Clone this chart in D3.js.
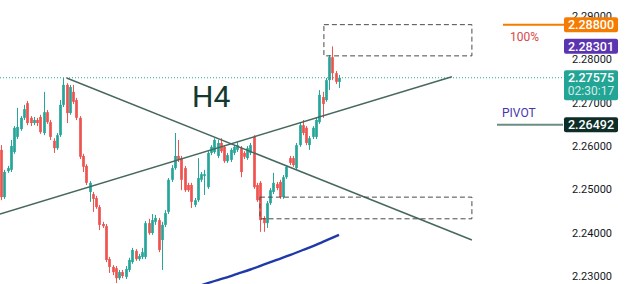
<!DOCTYPE html>
<html>
<head>
<meta charset="utf-8">
<script src="https://cdn.jsdelivr.net/npm/d3@7"></script>
<style>
  html, body { margin: 0; padding: 0; background: #fff; }
  svg { display: block; }
</style>
</head>
<body>
<svg id="chart" width="625" height="284"></svg>
<script>
// price axis ticks
const priceTicks = [2.23, 2.24, 2.25, 2.26, 2.27, 2.28, 2.29];

// 4h candles [open, high, low, close]
const ohlc = [
  [2.2591, 2.2602, 2.2475, 2.2482], [2.2482, 2.2545, 2.2478, 2.2540], [2.2542, 2.2554, 2.2538, 2.2549],
  [2.2545, 2.2614, 2.2540, 2.2600], [2.2586, 2.2646, 2.2582, 2.2642], [2.2621, 2.2688, 2.2616, 2.2644],
  [2.2639, 2.2669, 2.2635, 2.2665], [2.2665, 2.2695, 2.2660, 2.2685], [2.2699, 2.2704, 2.2648, 2.2653],
  [2.2665, 2.2669, 2.2646, 2.2653], [2.2653, 2.2667, 2.2648, 2.2660], [2.2660, 2.2665, 2.2646, 2.2653],
  [2.2667, 2.2672, 2.2628, 2.2632], [2.2630, 2.2725, 2.2625, 2.2678], [2.2678, 2.2683, 2.2651, 2.2655],
  [2.2655, 2.2660, 2.2614, 2.2621], [2.2612, 2.2618, 2.2584, 2.2595], [2.2595, 2.2630, 2.2591, 2.2625],
  [2.2625, 2.2706, 2.2621, 2.2695], [2.2695, 2.2757, 2.2690, 2.2741], [2.2741, 2.2745, 2.2653, 2.2676],
  [2.2676, 2.2741, 2.2672, 2.2736], [2.2725, 2.2741, 2.2697, 2.2702], [2.2706, 2.2711, 2.2660, 2.2665],
  [2.2665, 2.2669, 2.2570, 2.2575], [2.2577, 2.2582, 2.2540, 2.2552], [2.2554, 2.2558, 2.2510, 2.2515],
  [2.2494, 2.2519, 2.2471, 2.2515], [2.2489, 2.2494, 2.2448, 2.2478], [2.2480, 2.2485, 2.2455, 2.2459],
  [2.2459, 2.2464, 2.2406, 2.2418], [2.2420, 2.2425, 2.2411, 2.2415], [2.2415, 2.2420, 2.2332, 2.2337],
  [2.2339, 2.2344, 2.2307, 2.2321], [2.2321, 2.2325, 2.2302, 2.2309], [2.2318, 2.2323, 2.2284, 2.2295],
  [2.2295, 2.2314, 2.2291, 2.2309], [2.2309, 2.2314, 2.2295, 2.2300], [2.2298, 2.2323, 2.2293, 2.2316],
  [2.2314, 2.2342, 2.2309, 2.2337], [2.2332, 2.2365, 2.2328, 2.2360], [2.2358, 2.2362, 2.2335, 2.2339],
  [2.2339, 2.2351, 2.2335, 2.2346], [2.2344, 2.2365, 2.2339, 2.2355], [2.2344, 2.2427, 2.2339, 2.2422],
  [2.2422, 2.2432, 2.2395, 2.2399], [2.2399, 2.2443, 2.2395, 2.2429], [2.2425, 2.2441, 2.2418, 2.2434],
  [2.2429, 2.2434, 2.2355, 2.2360], [2.2383, 2.2425, 2.2314, 2.2418], [2.2418, 2.2452, 2.2413, 2.2445],
  [2.2448, 2.2526, 2.2443, 2.2522], [2.2522, 2.2556, 2.2517, 2.2549], [2.2549, 2.2630, 2.2545, 2.2577],
  [2.2577, 2.2614, 2.2563, 2.2568], [2.2572, 2.2577, 2.2498, 2.2522], [2.2549, 2.2554, 2.2494, 2.2498],
  [2.2510, 2.2515, 2.2494, 2.2498], [2.2510, 2.2515, 2.2457, 2.2471], [2.2464, 2.2480, 2.2459, 2.2475],
  [2.2475, 2.2572, 2.2471, 2.2526], [2.2522, 2.2540, 2.2517, 2.2535], [2.2531, 2.2545, 2.2487, 2.2535],
  [2.2505, 2.2588, 2.2501, 2.2584], [2.2584, 2.2602, 2.2579, 2.2598], [2.2586, 2.2618, 2.2582, 2.2614],
  [2.2577, 2.2614, 2.2572, 2.2607], [2.2607, 2.2618, 2.2584, 2.2588], [2.2598, 2.2602, 2.2561, 2.2565],
  [2.2565, 2.2584, 2.2561, 2.2579], [2.2568, 2.2595, 2.2563, 2.2591], [2.2584, 2.2602, 2.2579, 2.2598],
  [2.2591, 2.2609, 2.2586, 2.2602], [2.2595, 2.2600, 2.2528, 2.2540], [2.2584, 2.2588, 2.2570, 2.2575],
  [2.2572, 2.2600, 2.2568, 2.2595], [2.2584, 2.2607, 2.2579, 2.2602], [2.2621, 2.2625, 2.2501, 2.2505],
  [2.2510, 2.2515, 2.2471, 2.2475], [2.2515, 2.2519, 2.2402, 2.2429], [2.2434, 2.2438, 2.2402, 2.2422],
  [2.2422, 2.2473, 2.2411, 2.2468], [2.2468, 2.2503, 2.2464, 2.2498], [2.2494, 2.2538, 2.2489, 2.2515],
  [2.2512, 2.2517, 2.2498, 2.2503], [2.2517, 2.2522, 2.2478, 2.2482], [2.2482, 2.2533, 2.2478, 2.2528],
  [2.2528, 2.2556, 2.2524, 2.2552], [2.2572, 2.2577, 2.2556, 2.2561], [2.2572, 2.2577, 2.2552, 2.2556],
  [2.2549, 2.2607, 2.2545, 2.2602], [2.2602, 2.2655, 2.2598, 2.2648], [2.2648, 2.2660, 2.2625, 2.2630],
  [2.2642, 2.2646, 2.2602, 2.2607], [2.2602, 2.2623, 2.2591, 2.2618], [2.2621, 2.2646, 2.2616, 2.2642],
  [2.2621, 2.2665, 2.2616, 2.2660], [2.2655, 2.2729, 2.2651, 2.2718], [2.2713, 2.2725, 2.2665, 2.2697],
  [2.2706, 2.2757, 2.2702, 2.2752], [2.2752, 2.2810, 2.2729, 2.2805], [2.2805, 2.2830, 2.2752, 2.2768],
  [2.2768, 2.2773, 2.2743, 2.2748], [2.2748, 2.2764, 2.2734, 2.27575]
];

// moving average (blue), [bar index, price]
const maPoints = [
  [60, 2.2276], [64, 2.2286], [68, 2.2295], [72, 2.2305], [76, 2.2315], [80, 2.2326],
  [84, 2.2337], [88, 2.2348], [92, 2.2360], [96, 2.2372], [100, 2.2385], [103, 2.2395]
];

// drawn trend lines, [bar index, price] pairs
const trendLines = [
  [[20, 2.2757], [143.5, 2.2383]],
  [[-0.3, 2.2443], [137.4, 2.2760]]
];

// dashed zones: [fromBar, toBar, lowPrice, highPrice]
const zones = [
  [98.4, 143.5, 2.2808, 2.2880],
  [78.9, 143.5, 2.2432, 2.2482]
];

const lastPrice = 2.27575;
const countdown = "02:30:17";
const targetPrice = 2.28800;
const highPrice = 2.28301;
const pivotPrice = 2.26492;

const width = 625, height = 284;
const teal = "#26a69a", red = "#ef5350";
const font = "Roboto, 'Noto Sans', sans-serif";

const svg = d3.select("#chart");
svg.append("rect").attr("width", width).attr("height", height).attr("fill", "#fff");

const x = d3.scaleLinear().domain([0, ohlc.length - 1]).range([1, 339]);
const y = d3.scaleLinear().domain([2.23, 2.29]).range([276, 16]);

// price axis labels
const axis = svg.append("g")
  .attr("transform", "translate(566,0)")
  .call(d3.axisRight(y).tickValues(priceTicks).tickFormat(d3.format(".5f")).tickSize(0).tickPadding(6));
axis.select(".domain").remove();
axis.selectAll("text")
  .attr("font-family", font)
  .attr("font-size", "11px")
  .attr("fill", "#131722");

// last price dotted line
svg.append("line")
  .attr("x1", 0).attr("x2", 563)
  .attr("y1", y(lastPrice)).attr("y2", y(lastPrice))
  .attr("stroke", teal).attr("stroke-width", 1)
  .attr("stroke-dasharray", "1,2");

// H4 label
svg.append("text")
  .attr("x", 192).attr("y", 107)
  .attr("font-family", font).attr("font-size", "30px")
  .attr("fill", "#133a31")
  .text("H4");

// candles
const bw = 2.7;
const candle = svg.append("g").selectAll("g")
  .data(ohlc)
  .join("g");

candle.append("line")
  .attr("x1", (d, i) => Math.round(x(i)) + 0.5)
  .attr("x2", (d, i) => Math.round(x(i)) + 0.5)
  .attr("y1", d => y(d[1]))
  .attr("y2", d => y(d[2]))
  .attr("stroke", d => d[3] >= d[0] ? teal : red)
  .attr("stroke-width", 1);

candle.append("rect")
  .attr("x", (d, i) => Math.round(x(i)) + 0.5 - bw / 2)
  .attr("width", bw)
  .attr("y", d => y(Math.max(d[0], d[3])))
  .attr("height", d => Math.max(1, Math.abs(y(d[0]) - y(d[3]))))
  .attr("fill", d => d[3] >= d[0] ? teal : red);

// trend lines
svg.append("g").selectAll("line")
  .data(trendLines)
  .join("line")
  .attr("x1", d => x(d[0][0])).attr("y1", d => y(d[0][1]))
  .attr("x2", d => x(d[1][0])).attr("y2", d => y(d[1][1]))
  .attr("stroke", "#46685f")
  .attr("stroke-width", 1.5);

// dashed zones
svg.append("g").selectAll("rect")
  .data(zones)
  .join("rect")
  .attr("x", d => x(d[0]))
  .attr("width", d => x(d[1]) - x(d[0]))
  .attr("y", d => y(d[3]))
  .attr("height", d => y(d[2]) - y(d[3]))
  .attr("fill", "none")
  .attr("stroke", "#4a4a4a")
  .attr("stroke-width", 1)
  .attr("stroke-dasharray", "5,3");

// moving average
svg.append("path")
  .datum(maPoints)
  .attr("d", d3.line().x(d => x(d[0])).y(d => y(d[1])).curve(d3.curveMonotoneX))
  .attr("fill", "none")
  .attr("stroke", "#1f3aa8")
  .attr("stroke-width", 2.4);

// target line and pivot line
svg.append("line")
  .attr("x1", 503).attr("x2", 564)
  .attr("y1", y(targetPrice)).attr("y2", y(targetPrice))
  .attr("stroke", "#f57c00").attr("stroke-width", 2);
svg.append("text")
  .attr("x", 510).attr("y", y(targetPrice) + 16)
  .attr("font-family", font).attr("font-size", "12px")
  .attr("fill", "#d94848")
  .text("100%");

svg.append("line")
  .attr("x1", 497).attr("x2", 563)
  .attr("y1", y(pivotPrice)).attr("y2", y(pivotPrice))
  .attr("stroke", "#6d8c84").attr("stroke-width", 2);
svg.append("text")
  .attr("x", 502).attr("y", y(pivotPrice) - 8)
  .attr("font-family", font).attr("font-size", "12px")
  .attr("fill", "#4535b0")
  .text("PIVOT");

// price badges on the axis
function badge(price, color, sub) {
  const h = sub ? 30 : 15;
  const top = y(price) - 7.5;
  svg.append("rect")
    .attr("x", 564).attr("y", top)
    .attr("width", 54).attr("height", h)
    .attr("rx", 2)
    .attr("fill", color);
  svg.append("text")
    .attr("x", 591).attr("y", top + 7.5)
    .attr("dy", "0.36em")
    .attr("text-anchor", "middle")
    .attr("font-family", font).attr("font-size", "12.5px").attr("font-weight", 500)
    .attr("fill", "#fff")
    .text(d3.format(".5f")(price));
  if (sub) {
    svg.append("text")
      .attr("x", 591).attr("y", top + 20)
      .attr("dy", "0.36em")
      .attr("text-anchor", "middle")
      .attr("font-family", font).attr("font-size", "12px")
      .attr("fill", "#fff").attr("fill-opacity", 0.8)
      .text(sub);
  }
}
badge(targetPrice, "#f57c00");
badge(highPrice, "#5b34b0");
badge(lastPrice, "#22a595", countdown);
badge(pivotPrice, "#0c2e27");
</script>
</body>
</html>
